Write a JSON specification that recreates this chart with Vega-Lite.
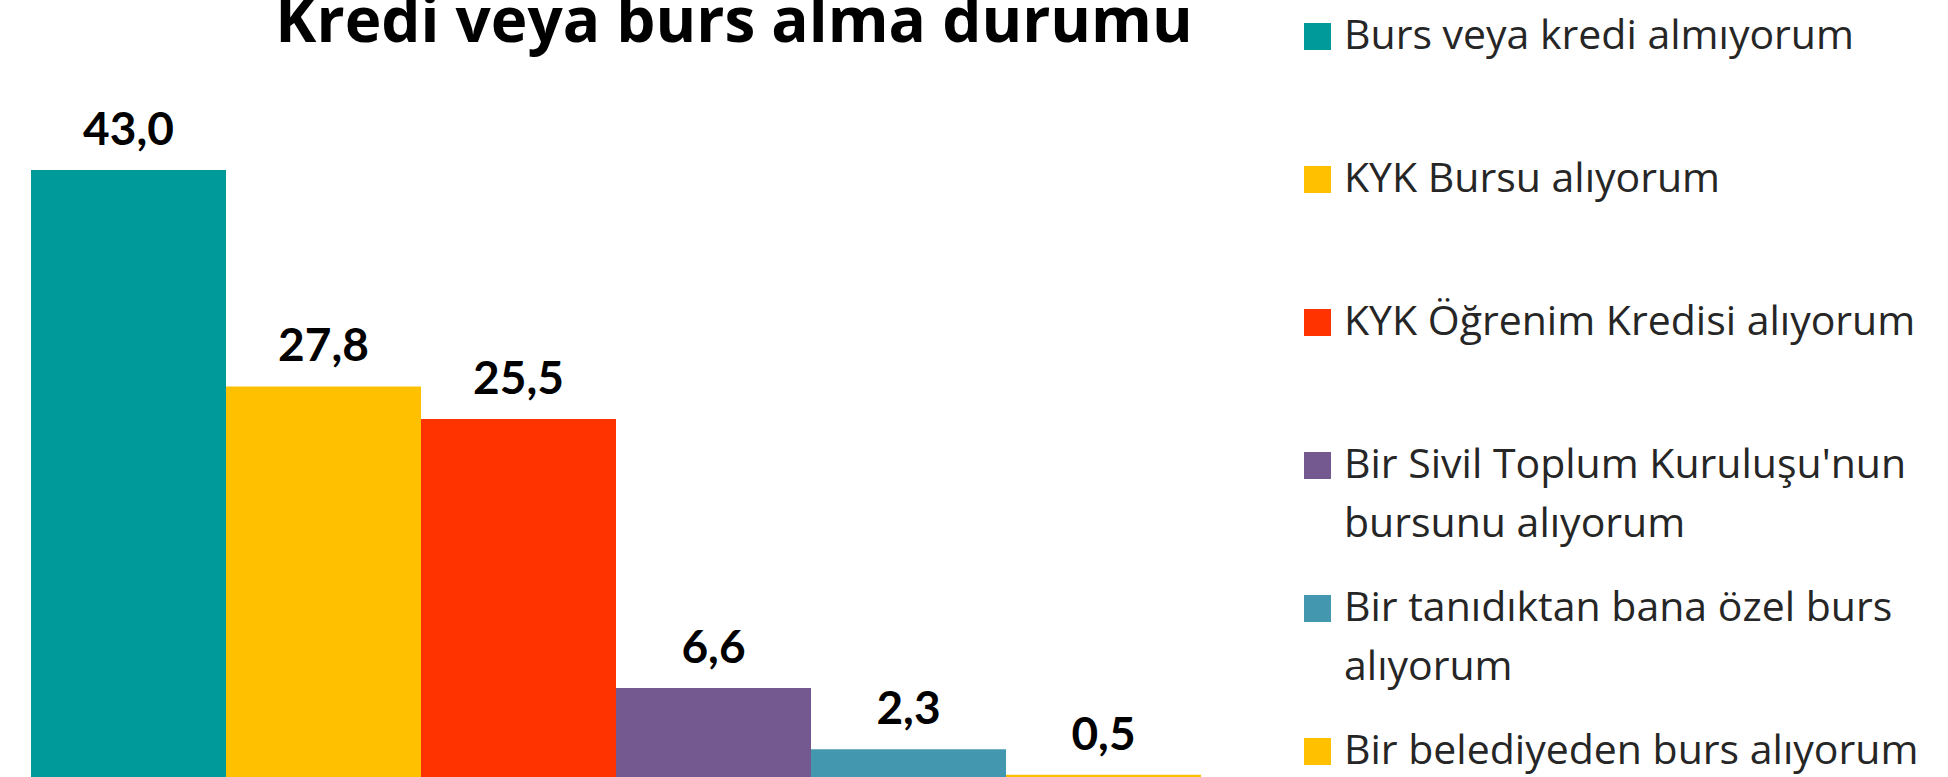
{
  "$schema": "https://vega.github.io/schema/vega-lite/v6.json",
  "width": 1170,
  "height": 697,
  "autosize": {"type": "none"},
  "padding": {"left": 31, "top": 80, "right": 747, "bottom": 0},
  "background": "white",
  "title": {"text": "Kredi veya burs alma durumu", "font": "Open Sans", "fontSize": 62, "fontWeight": "bold", "color": "black", "anchor": "middle", "dx": 118, "baseline": "alphabetic", "offset": -117},
  "data": {"values": [
    {"kategori": "Burs veya kredi almıyorum", "yuzde": 43.0},
    {"kategori": "KYK Bursu alıyorum", "yuzde": 27.8},
    {"kategori": "KYK Öğrenim Kredisi alıyorum", "yuzde": 25.5},
    {"kategori": "Bir Sivil Toplum Kuruluşu'nun bursunu alıyorum", "yuzde": 6.6},
    {"kategori": "Bir tanıdıktan bana özel burs alıyorum", "yuzde": 2.3},
    {"kategori": "Bir belediyeden burs alıyorum", "yuzde": 0.5}
  ]},
  "encoding": {
    "x": {"field": "kategori", "type": "nominal", "sort": null, "axis": null, "scale": {"paddingInner": 0, "paddingOuter": 0}},
    "y": {"field": "yuzde", "type": "quantitative", "axis": null, "scale": {"domain": [0.35, 49.33], "nice": false, "zero": false}}
  },
  "layer": [
    {
      "mark": {"type": "bar", "clip": true},
      "encoding": {
        "color": {
          "field": "kategori", "type": "nominal", "sort": null,
          "scale": {
            "domain": ["Burs veya kredi almıyorum", "KYK Bursu alıyorum", "KYK Öğrenim Kredisi alıyorum", "Bir Sivil Toplum Kuruluşu'nun bursunu alıyorum", "Bir tanıdıktan bana özel burs alıyorum", "Bir belediyeden burs alıyorum"],
            "range": ["#009A9A", "#FFC000", "#FF3300", "#73598F", "#4398B0", "#FFC000"]
          },
          "legend": {
            "orient": "none",
            "legendX": 1266,
            "legendY": -93.5,
            "title": null,
            "symbolType": "square",
            "symbolSize": 729,
            "symbolStrokeWidth": 0,
            "symbolOpacity": 1,
            "labelFont": "Open Sans",
            "labelFontSize": 41,
            "labelColor": "#262626",
            "labelOffset": 6,
            "labelLimit": 0,
            "rowPadding": 0,
            "clipHeight": 143,
            "labelExpr": "datum.label == \"Bir Sivil Toplum Kuruluşu'nun bursunu alıyorum\" ? [\"Bir Sivil Toplum Kuruluşu'nun\", \"bursunu alıyorum\"] : datum.label == \"Bir tanıdıktan bana özel burs alıyorum\" ? [\"Bir tanıdıktan bana özel burs\", \"alıyorum\"] : datum.label",
            "encode": {
              "symbols": {"update": {"y": {"value": 50}}},
              "labels": {"update": {"y": {"value": 50}}}
            }
          }
        }
      }
    },
    {
      "mark": {"type": "text", "font": "Lato", "fontSize": 46, "fontWeight": "bold", "dy": -25, "baseline": "alphabetic", "color": "black"},
      "encoding": {"text": {"field": "yuzde", "type": "quantitative", "format": ".1f"}}
    }
  ],
  "config": {
    "view": {"stroke": null},
    "style": {"guide-label": {"lineHeight": 59}},
    "locale": {"number": {"decimal": ",", "thousands": ".", "grouping": [3], "currency": ["", " TL"]}}
  }
}
